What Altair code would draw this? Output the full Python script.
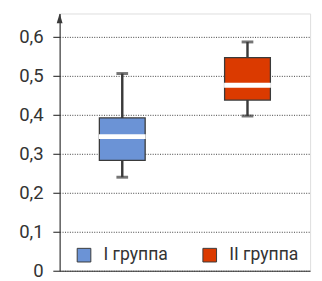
import altair as alt
import pandas as pd

groups = ["I группа", "II группа"]
whisker_low = [0.24, 0.397]
q1 = [0.283, 0.438]
median = [0.344, 0.476]
q3 = [0.392, 0.547]
whisker_high = [0.506, 0.587]
colors = ["#6b93d6", "#db3a00"]
y_ticks = [0, 0.1, 0.2, 0.3, 0.4, 0.5, 0.6]

df = pd.DataFrame({
    "group": groups,
    "low": whisker_low,
    "q1": q1,
    "median": median,
    "q3": q3,
    "high": whisker_high,
})

W, H = 257, 264
dark = "#3a3a3a"
font = "Roboto"

x = alt.X("group:N", scale=alt.Scale(domain=groups, paddingInner=0, paddingOuter=0),
          axis=alt.Axis(labels=False, ticks=False, title=None, domainColor=dark,
                        domainWidth=1.2, grid=False))
yscale = alt.Scale(domain=[0, 0.66], nice=False, zero=True)
yaxis = alt.Axis(values=y_ticks, title=None, grid=True, gridColor=dark, gridDash=[1, 1.5],
                 gridWidth=1, domainColor=dark, domainWidth=1.2, tickColor=dark,
                 tickSize=7, tickWidth=1.2, labelPadding=10, labelFontSize=19,
                 labelColor="#333", labelFont=font,
                 labelExpr="datum.value == 0 ? '0' : replace(format(datum.value, '.1f'), '.', ',')")

color = alt.Color("group:N", scale=alt.Scale(domain=groups, range=colors),
                  legend=alt.Legend(title=None, orient="none", legendX=16, legendY=239,
                                    direction="horizontal", symbolType="square",
                                    symbolSize=196, symbolStrokeColor=dark,
                                    symbolStrokeWidth=1, symbolOpacity=1,
                                    labelFontSize=18, labelFont=font, labelColor="#333",
                                    labelOffset=11, columnPadding=33))

base = alt.Chart(df)

whisk = base.mark_rule(color=dark, strokeWidth=2.5).encode(
    x=x, y=alt.Y("low:Q", scale=yscale, axis=yaxis), y2="high:Q")
caps_low = base.mark_tick(color=dark, size=12, thickness=3).encode(x=x, y=alt.Y("low:Q", scale=yscale))
caps_high = base.mark_tick(color=dark, size=12, thickness=3).encode(x=x, y=alt.Y("high:Q", scale=yscale))
box = base.mark_bar(size=47, stroke=dark, strokeWidth=1.3, opacity=1).encode(
    x=x, y=alt.Y("q1:Q", scale=yscale), y2="q3:Q", color=color)
med = base.mark_tick(color="white", size=48, thickness=5, opacity=1).encode(
    x=x, y=alt.Y("median:Q", scale=yscale))
arrow = alt.Chart(pd.DataFrame({"a": [0]})).mark_point(
    shape="M0,-1L0.6,1L-0.6,1Z", filled=True, color=dark, size=100, opacity=1
).encode(x=alt.value(0), y=alt.value(5))

chart = alt.layer(whisk, caps_low, caps_high, box, med, arrow).properties(
    width=W, height=H,
    autosize=alt.AutoSizeParams(type="none"),
    padding={"left": 53, "top": 2, "right": 4, "bottom": 12},
).configure_view(stroke=None).configure(background="white")

chart.save("out.html", embed_options={"renderer": "svg", "actions": False})
